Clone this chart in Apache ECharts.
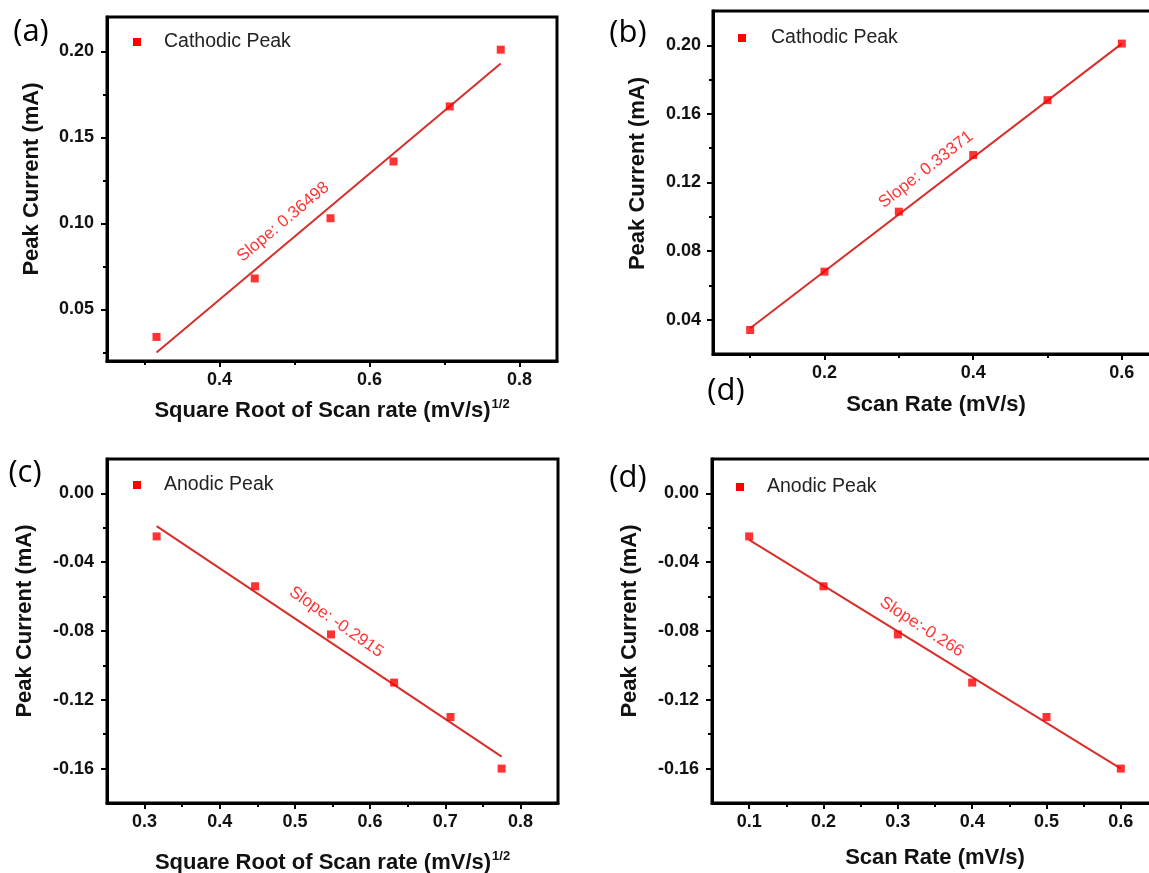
<!DOCTYPE html>
<html>
<head>
<meta charset="utf-8">
<script src="https://cdn.jsdelivr.net/npm/echarts@6/dist/echarts.min.js"></script>
<style>
html,body{margin:0;padding:0;background:#fff;overflow:hidden;}
#chart{width:1149px;height:873px;}
</style>
</head>
<body>
<div id="chart"></div>
<script>
// ---- data ----
const sqrtScanRate = [0.316, 0.447, 0.548, 0.632, 0.707, 0.775];
const scanRate = [0.1, 0.2, 0.3, 0.4, 0.5, 0.6];
const cathodicPeak = [0.034, 0.068, 0.103, 0.136, 0.168, 0.201];
const anodicPeak = [-0.025, -0.054, -0.082, -0.110, -0.130, -0.160];

// linear-fit line end points (as drawn)
const fitA_x = [0.316, 0.775], fitA_y = [0.025, 0.193];
const fitB_x = [0.1, 0.6],     fitB_y = [0.035, 0.201];
const fitC_x = [0.316, 0.775], fitC_y = [-0.019, -0.153];
const fitD_x = [0.1, 0.6],     fitD_y = [-0.027, -0.160];

// slope annotations
const slopeTexts = ['Slope: 0.36498', 'Slope: 0.33371', 'Slope: -0.2915', 'Slope:-0.266'];
const slopePosX = [0.485, 0.3365, 0.555, 0.332];
const slopePosY = [0.1008, 0.1275, -0.0748, -0.0777];
const slopeAngle = [40, 38, -35, -33];

// tick labels
const xTicksSqrtA = [0.4, 0.6, 0.8];
const xMinorSqrtA = [0.3, 0.5, 0.7];
const xTicksSqrtC = [0.3, 0.4, 0.5, 0.6, 0.7, 0.8];
const xMinorSqrtC = [0.35, 0.45, 0.55, 0.65, 0.75];
const xTicksRateB = [0.2, 0.4, 0.6];
const xMinorRateB = [0.1, 0.3, 0.5];
const xTicksRateD = [0.1, 0.2, 0.3, 0.4, 0.5, 0.6];
const xMinorRateD = [0.15, 0.25, 0.35, 0.45, 0.55];
const yTicksA = [0.05, 0.10, 0.15, 0.20];
const yMinorA = [0.025, 0.075, 0.125, 0.175];
const yTicksB = [0.04, 0.08, 0.12, 0.16, 0.20];
const yMinorB = [0.06, 0.10, 0.14, 0.18];
const yTicksCD = [0.00, -0.04, -0.08, -0.12, -0.16];
const yMinorCD = [-0.02, -0.06, -0.10, -0.14];

const panelLabels = ['(a)', '(b)', '(c)', '(d)', '(d)'];

// ---- styling ----
const FONT = '"Liberation Sans", Arial, sans-serif';
const RED = '#ff0000';
const LINE_RED = '#d62f2c';

const grids = [
  {left: 107, top: 17, width: 450, height: 344},
  {left: 713, top: 11, width: 446, height: 343},
  {left: 107, top: 459, width: 451, height: 344},
  {left: 712, top: 459, width: 446, height: 344}
];

const panels = [
  {xMin: 0.25, xMax: 0.85, yMin: 0.02, yMax: 0.22, xt: xTicksSqrtA, xm: xMinorSqrtA, yt: yTicksA, ym: yMinorA,
   xd: 1, yd: 2, xName: 'sqrt', xs: sqrtScanRate, ys: cathodicPeak, fx: fitA_x, fy: fitA_y, series: 'Cathodic Peak',
   xGap: 37, yGap: 64, yPad: 20, yLabMargin: 13},
  {xMin: 0.05, xMax: 0.65, yMin: 0.02, yMax: 0.22, xt: xTicksRateB, xm: xMinorRateB, yt: yTicksB, ym: yMinorB,
   xd: 1, yd: 2, xName: 'rate', xs: scanRate, ys: cathodicPeak, fx: fitB_x, fy: fitB_y, series: 'Cathodic Peak',
   xGap: 38, yGap: 64, yPad: 18, yLabMargin: 12},
  {xMin: 0.25, xMax: 0.85, yMin: -0.18, yMax: 0.02, xt: xTicksSqrtC, xm: xMinorSqrtC, yt: yTicksCD, ym: yMinorCD,
   xd: 1, yd: 2, xName: 'sqrt', xs: sqrtScanRate, ys: anodicPeak, fx: fitC_x, fy: fitC_y, series: 'Anodic Peak',
   xGap: 47, yGap: 71, yPad: 20, yLabMargin: 13},
  {xMin: 0.05, xMax: 0.65, yMin: -0.18, yMax: 0.02, xt: xTicksRateD, xm: xMinorRateD, yt: yTicksCD, ym: yMinorCD,
   xd: 1, yd: 2, xName: 'rate', xs: scanRate, ys: anodicPeak, fx: fitD_x, fy: fitD_y, series: 'Anodic Peak',
   xGap: 42, yGap: 71, yPad: 20, yLabMargin: 13}
];

const xAxes = [], yAxes = [], series = [], legends = [];
const legendPos = [
  {left: 133, top: 32}, {left: 738, top: 28}, {left: 133, top: 475}, {left: 736, top: 477}
];
const legendTextPad = [18, 20, 18, 18];

panels.forEach((p, i) => {
  const xIdx = xAxes.length, yIdx = yAxes.length;
  const xTitle = p.xName === 'sqrt'
    ? '{t|Square Root of Scan rate (mV/s)}{s|1/2}'
    : '{t|Scan Rate (mV/s)}';
  xAxes.push({
    type: 'value', gridIndex: i, position: 'bottom', min: p.xMin, max: p.xMax,
    name: xTitle, nameLocation: 'middle', nameGap: p.xGap,
    nameTextStyle: {
      rich: {
        t: {fontFamily: FONT, fontWeight: 'bold', fontSize: 22, color: '#111', lineHeight: 26},
        s: {fontFamily: FONT, fontWeight: 'bold', fontSize: 13, color: '#111', verticalAlign: 'top', lineHeight: 26, padding: [0, 0, 10, 1]}
      }
    },
    axisLine: {show: true, onZero: false, lineStyle: {color: '#000', width: 3}},
    axisTick: {show: true, inside: false, length: 6, lineStyle: {color: '#000', width: 2}, customValues: p.xt},
    axisLabel: {show: true, margin: 10, fontFamily: FONT, fontWeight: 'bold', fontSize: 18, color: '#111',
      customValues: p.xt, formatter: v => Number(v).toFixed(p.xd)},
    splitLine: {show: false}
  });
  xAxes.push({
    type: 'value', gridIndex: i, position: 'bottom', min: p.xMin, max: p.xMax,
    axisLine: {show: false, onZero: false},
    axisTick: {show: true, inside: false, length: 4, lineStyle: {color: '#000', width: 2}, customValues: p.xm},
    axisLabel: {show: false}, splitLine: {show: false}
  });
  yAxes.push({
    type: 'value', gridIndex: i, position: 'left', min: p.yMin, max: p.yMax,
    name: 'Peak Current (mA)', nameLocation: 'middle', nameGap: p.yGap,
    nameTextStyle: {fontFamily: FONT, fontWeight: 'bold', fontSize: 22, color: '#111', padding: [0, 0, 0, p.yPad]},
    axisLine: {show: true, onZero: false, lineStyle: {color: '#000', width: 3}},
    axisTick: {show: true, inside: false, length: 6, lineStyle: {color: '#000', width: 2}, customValues: p.yt},
    axisLabel: {show: true, margin: p.yLabMargin, fontFamily: FONT, fontWeight: 'bold', fontSize: 18, color: '#111',
      customValues: p.yt, formatter: v => Number(v).toFixed(p.yd)},
    splitLine: {show: false}
  });
  yAxes.push({
    type: 'value', gridIndex: i, position: 'left', min: p.yMin, max: p.yMax,
    axisLine: {show: false, onZero: false},
    axisTick: {show: true, inside: false, length: 4, lineStyle: {color: '#000', width: 2}, customValues: p.ym},
    axisLabel: {show: false}, splitLine: {show: false}
  });

  series.push({
    name: p.series, type: 'line', xAxisIndex: xIdx, yAxisIndex: yIdx,
    data: p.fx.map((x, k) => [x, p.fy[k]]),
    showSymbol: false, symbol: 'none', silent: true,
    lineStyle: {color: LINE_RED, width: 2}, z: 2
  });
  series.push({
    name: p.series, type: 'scatter', xAxisIndex: xIdx, yAxisIndex: yIdx,
    data: p.xs.map((x, k) => [x, p.ys[k]]),
    symbol: 'rect', symbolSize: 8, itemStyle: {color: RED}, z: 3
  });
  series.push({
    type: 'scatter', xAxisIndex: xIdx, yAxisIndex: yIdx, silent: true,
    data: [[slopePosX[i], slopePosY[i]]], symbolSize: 0,
    label: {show: true, position: 'inside', formatter: slopeTexts[i], rotate: slopeAngle[i],
      color: RED, fontFamily: FONT, fontSize: 17},
    z: 4
  });

  legends.push({
    data: [{name: p.series, icon: 'rect'}], left: legendPos[i].left, top: legendPos[i].top,
    itemWidth: 8, itemHeight: 8, selectedMode: false, padding: 0,
    itemStyle: {color: RED},
    textStyle: {fontFamily: FONT, fontSize: 19.5, color: '#222', padding: [0, 0, 0, legendTextPad[i]]}
  });
});

const labelPos = [[31, 32], [628, 33], [25, 473], [628, 478], [726, 391]];
const graphics = panelLabels.map((t, i) => ({
  type: 'text', x: labelPos[i][0], y: labelPos[i][1],
  style: {text: t, fontFamily: '"Open Sans", "Noto Sans", sans-serif', fontSize: 31, fill: '#000',
    textAlign: 'center', textVerticalAlign: 'middle'}
}));

const chart = echarts.init(document.getElementById('chart'), null, {renderer: 'canvas'});
chart.setOption({
  backgroundColor: '#fff',
  animation: false,
  grid: grids.map(g => Object.assign({show: true, borderColor: '#000', borderWidth: 3,
    backgroundColor: 'transparent', containLabel: false, outerBoundsMode: 'none'}, g)),
  xAxis: xAxes,
  yAxis: yAxes,
  legend: legends,
  series: series,
  graphic: graphics
});
</script>
</body>
</html>
